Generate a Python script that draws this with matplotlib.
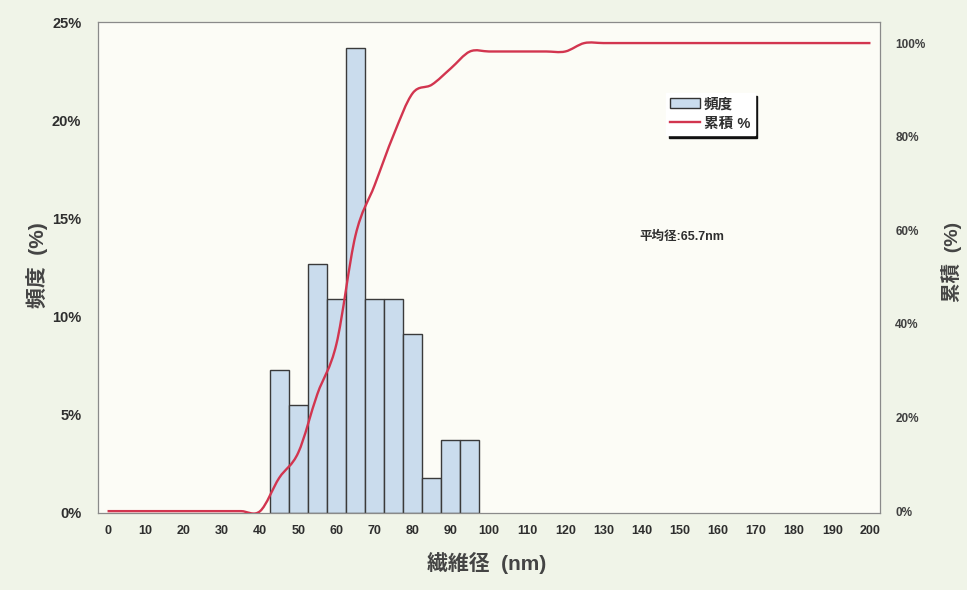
import numpy as np
import matplotlib.pyplot as plt
from matplotlib.path import Path
from matplotlib.patches import PathPatch, Patch
from matplotlib.lines import Line2D
from matplotlib.ticker import FuncFormatter

plt.rcParams['font.family'] = ['Liberation Sans', 'Noto Sans CJK JP', 'DejaVu Sans']

# histogram (frequency, %)
bin_centers = [45, 50, 55, 60, 65, 70, 75, 80, 85, 90, 95]
freq_pct = [7.3, 5.5, 12.7, 10.9, 23.7, 10.9, 10.9, 9.1, 1.8, 3.7, 3.7]

# cumulative curve (%)
cum_x = [0, 5, 10, 15, 20, 25, 30, 35, 40, 45, 50, 55, 60, 65, 70, 75, 80,
         85, 90, 95, 100, 105, 110, 115, 120, 125, 130, 135, 140, 145, 150,
         155, 160, 165, 170, 175, 180, 185, 190, 195, 200]
cum_pct = [0, 0, 0, 0, 0, 0, 0, 0, 0, 7.1, 12.5, 25.0, 35.7, 58.9, 69.6, 80.4,
           89.3, 91.1, 94.6, 98.2, 98.2, 98.2, 98.2, 98.2, 98.2, 100, 100, 100,
           100, 100, 100, 100, 100, 100, 100, 100, 100, 100, 100, 100, 100]

x_ticks = [0, 10, 20, 30, 40, 50, 60, 70, 80, 90, 100, 110, 120, 130, 140,
           150, 160, 170, 180, 190, 200]
left_ticks = [0, 5, 10, 15, 20, 25]
right_ticks = [0, 20, 40, 60, 80, 100]

bar_color = '#cadced'
line_color = '#d2354f'
text_color = '#2e2e2e'

fig = plt.figure(figsize=(9.67, 5.9), dpi=100, facecolor='#f0f4e8')
ax = fig.add_axes([98 / 967, 77 / 590, 782 / 967, 491 / 590])
ax.set_facecolor('#fcfcf6')

ax.bar(bin_centers, freq_pct, width=5, color=bar_color, edgecolor='#3a3a3a',
       linewidth=1.0, zorder=2)
ax.set_xlim(-2.5, 202.5)
ax.set_ylim(0, 25)
ax.set_xticks(x_ticks)
ax.set_yticks(left_ticks)
ax.yaxis.set_major_formatter(FuncFormatter(lambda v, p: f'{v:.0f}%'))
ax.tick_params(axis='both', length=0)
ax.tick_params(axis='y', pad=12, labelsize=10.5, labelcolor=text_color)
ax.tick_params(axis='x', pad=9, labelsize=9, labelcolor=text_color)
for lbl in ax.get_xticklabels() + ax.get_yticklabels():
    lbl.set_fontweight('bold')
for lbl in ax.get_xticklabels():
    lbl.set_family(['Liberation Sans Narrow', 'Liberation Sans'])
for s in ax.spines.values():
    s.set_color('#8a8a8a')
    s.set_linewidth(0.9)

ax2 = ax.twinx()
ax2.set_ylim(-0.4, 104.5)
ax2.set_yticks(right_ticks)
ax2.yaxis.set_major_formatter(FuncFormatter(lambda v, p: f'{v:.0f}%'))
ax2.tick_params(axis='y', length=0, pad=11, labelsize=8.5, labelcolor='#404040')
for lbl in ax2.get_yticklabels():
    lbl.set_fontweight('bold')
for s in ax2.spines.values():
    s.set_visible(False)

# smoothed cumulative line (Bezier through the read points)
pts = np.column_stack([cum_x, cum_pct]).astype(float)
n = len(pts)
verts = [pts[0]]
codes = [Path.MOVETO]
for i in range(n - 1):
    p0 = pts[max(i - 1, 0)]
    p1 = pts[i]
    p2 = pts[i + 1]
    p3 = pts[min(i + 2, n - 1)]
    verts += [p1 + (p2 - p0) / 6, p2 - (p3 - p1) / 6, p2]
    codes += [Path.CURVE4] * 3
ax2.add_patch(PathPatch(Path(verts, codes), fill=False, edgecolor=line_color,
                        linewidth=1.7, zorder=3))

ax2.text(139.5, 58.5, '平均径:65.7nm', fontsize=9, fontweight='bold',
         color=text_color, va='center', ha='left')

handles = [Patch(facecolor=bar_color, edgecolor='#333333', linewidth=1.0),
           Line2D([], [], color=line_color, linewidth=1.7)]
leg = ax2.legend(handles, ['頻度', '累積 %'], loc='upper left',
                 bbox_to_anchor=(666 / 967, 1 - 93 / 590),
                 bbox_transform=fig.transFigure, fancybox=False,
                 shadow={'color': '#111111', 'alpha': 1},
                 facecolor='white', edgecolor='white', framealpha=1,
                 prop={'size': 10.5, 'weight': 'bold'}, handlelength=2.0,
                 handleheight=0.7, handletextpad=0.3, labelspacing=0.35,
                 borderpad=0.3, borderaxespad=0)
for t in leg.get_texts():
    t.set_color(text_color)

fig.text(37 / 967, 1 - 265 / 590, '頻度  (%)', rotation=90, fontsize=15,
         fontweight='bold', color='#444444', ha='center', va='center')
fig.text(952 / 967, 1 - 262 / 590, '累積  (%)', rotation=90, fontsize=14,
         fontweight='bold', color='#444444', ha='center', va='center')
fig.text(487 / 967, 1 - 563 / 590, '繊維径  (nm)', fontsize=15,
         fontweight='bold', color='#444444', ha='center', va='center')

fig.savefig('out.png', dpi=100, facecolor=fig.get_facecolor())
